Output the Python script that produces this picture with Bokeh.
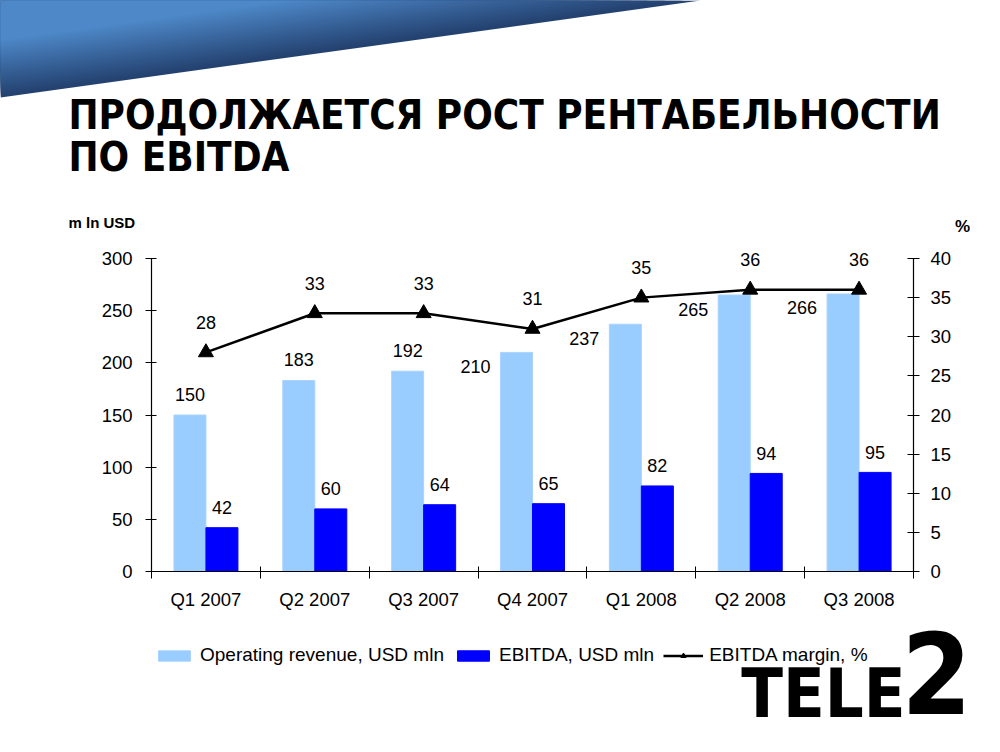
from bokeh.plotting import figure
from bokeh.models import (Range1d, LinearAxis, FixedTicker, Legend, LegendItem)
from bokeh.core.properties import value
from bokeh.embed import file_html
from bokeh.resources import INLINE

# ---------------- data ----------------
quarters = ["Q1 2007", "Q2 2007", "Q3 2007", "Q4 2007", "Q1 2008", "Q2 2008", "Q3 2008"]
revenue = [150, 183, 192, 210, 237, 265, 266]
ebitda = [42, 60, 64, 65, 82, 94, 95]
margin = [28, 33, 33, 31, 35, 36, 36]
left_ticks = [0, 50, 100, 150, 200, 250, 300]
right_ticks = [0, 5, 10, 15, 20, 25, 30, 35, 40]
title_lines = ["ПРОДОЛЖАЕТСЯ РОСТ РЕНТАБЕЛЬНОСТИ", "ПО EBITDA"]

FONT = "Liberation Sans"
W, H = 984, 744

# layout geometry (pixels from the canvas top-left)
AX_L, AX_R = 151, 913        # plot area left / right
AX_B, AX_T = 571, 258        # plot area bottom (0) / top (300)

kx = (AX_R - AX_L) / 7.0
ky = (AX_B - AX_T) / 300.0
ky2 = (AX_B - AX_T) / 40.0

p = figure(width=W, height=H,
           x_range=Range1d(-AX_L / kx, 7 + (W - AX_R) / kx),
           y_range=Range1d(-(H - AX_B) / ky, AX_B / ky),
           x_axis_type=None, y_axis_type=None, output_backend="svg",
           toolbar_location=None, min_border=0)
p.grid.visible = False
p.outline_line_color = None
p.extra_y_ranges = {"pct": Range1d(-(H - AX_B) / ky2, AX_B / ky2),
                    "py": Range1d(H, 0)}
p.extra_x_ranges = {"px": Range1d(0, W)}

# ---------------- banner + title (pixel decoration) ----------------
dark = (36, 66, 112)
light = (78, 136, 200)
n = 24
s_hi, s_lo = 1.0, 0.42
for k in range(n + 1):
    s = s_hi - (s_hi - s_lo) * k / n
    t = k / n
    c = tuple(int(dark[j] + (light[j] - dark[j]) * t) for j in range(3))
    col = "#%02x%02x%02x" % c
    p.patch([0, 700 * s, 0], [0, 0, 97 * s], fill_color=col, line_color=None,
            x_range_name="px", y_range_name="py")

p.text(x=[68, 68], y=[114, 156], text=title_lines, text_font=value("DejaVu Sans Condensed"),
       text_font_style="bold", text_font_size="40px", text_color="black",
       text_baseline="middle", text_align="left", x_range_name="px", y_range_name="py")

# ---------------- chart ----------------
bw = 32 / kx
centers = [i + 0.5 for i in range(len(quarters))]
x_rev = [c - bw / 2 for c in centers]
x_ebd = [c + bw / 2 for c in centers]

r_rev = p.vbar(x=x_rev, top=revenue, bottom=0, width=bw, fill_color="#99CCFF", line_color="#A8D3FF")
r_ebd = p.vbar(x=x_ebd, top=ebitda, bottom=0, width=bw, fill_color="#0000FF", line_color="#0000FF")
r_line = p.line(x=centers, y=margin, y_range_name="pct", line_color="black", line_width=2.5)
r_pts = p.scatter(x=centers, y=margin, y_range_name="pct", marker="triangle", size=15,
                  fill_color="black", line_color="black")

lbl = dict(text_font=value(FONT), text_font_size="18px", text_color="black", text_baseline="middle")

above_idx = [0, 1, 2]
side_idx = [3, 4, 5, 6]
p.text(x=[x_rev[i] for i in above_idx], y=[revenue[i] + 21 / ky for i in above_idx],
       text=[str(revenue[i]) for i in above_idx], text_align="center", **lbl)
p.text(x=[centers[i] - bw - 10 / kx for i in side_idx], y=[revenue[i] - 14 / ky for i in side_idx],
       text=[str(revenue[i]) for i in side_idx], text_align="right", **lbl)
p.text(x=x_ebd, y=[v + 20 / ky for v in ebitda], text=[str(v) for v in ebitda],
       text_align="center", **lbl)
p.text(x=centers, y=[v + 30 / ky2 for v in margin], text=[str(v) for v in margin],
       y_range_name="pct", text_align="center", **lbl)

# ---------------- axes ----------------
xa = LinearAxis(fixed_location=0, bounds=(0, 7),
                ticker=FixedTicker(ticks=centers, minor_ticks=list(range(8))))
xa.major_label_overrides = {c: q for c, q in zip(centers, quarters)}
xa.major_tick_line_color = None
xa.major_tick_in = 0
xa.major_tick_out = 0
xa.minor_tick_in = 5
xa.minor_tick_out = 7
xa.minor_tick_line_color = "black"
xa.major_label_standoff = 10
p.add_layout(xa, "below")

ya = LinearAxis(fixed_location=0, bounds=(0, 300), ticker=FixedTicker(ticks=left_ticks))
ya.major_tick_in = 5
ya.major_tick_out = 6
ya.minor_tick_line_color = None
ya.major_label_standoff = 13
p.add_layout(ya, "left")

yr = LinearAxis(fixed_location=7, y_range_name="pct", bounds=(0, 40),
                ticker=FixedTicker(ticks=right_ticks))
yr.major_tick_in = 6
yr.major_tick_out = 6
yr.minor_tick_line_color = None
yr.major_label_standoff = 11
p.add_layout(yr, "right")

for ax in (xa, ya, yr):
    ax.major_label_text_font = FONT
    ax.major_label_text_font_size = "18.5px"
    ax.major_label_text_color = "black"
    ax.axis_line_color = "black"
    ax.axis_line_width = 1.2
for ax in (ya, yr):
    ax.major_tick_line_color = "black"

# ---------------- legend ----------------
legend = Legend(items=[
    LegendItem(label="Operating revenue, USD mln", renderers=[r_rev]),
    LegendItem(label="EBITDA, USD mln", renderers=[r_ebd]),
    LegendItem(label="EBITDA margin, %", renderers=[r_line, r_pts]),
], orientation="horizontal", location=(154, 78))
legend.label_text_font = FONT
legend.label_text_font_size = "19px"
legend.label_text_color = "black"
legend.glyph_width = 40
legend.glyph_height = 13
legend.label_standoff = 6
legend.spacing = 9
legend.padding = 4
legend.margin = 0
legend.border_line_color = None
legend.background_fill_alpha = 0
p.add_layout(legend, "center")

# ---------------- captions and logo (pixel decoration) ----------------
p.text(x=[68], y=[222], text=["m ln USD"], text_font=value(FONT), text_font_style="bold",
       text_font_size="15px", text_align="left", text_baseline="middle", text_color="black",
       x_range_name="px", y_range_name="py")
p.text(x=[962], y=[226], text=["%"], text_font=value(FONT), text_font_style="bold",
       text_font_size="17px", text_align="center", text_baseline="middle", text_color="black",
       x_range_name="px", y_range_name="py")
p.text(x=[905], y=[693], text=["TELE"], text_font=value("DejaVu Sans Condensed"),
       text_font_style="bold", text_font_size="68px", text_align="right",
       text_baseline="middle", text_color="black", x_range_name="px", y_range_name="py")
p.text(x=[901], y=[672], text=["2"], text_font=value("DejaVu Sans Condensed"),
       text_font_style="bold", text_font_size="112px", text_align="left",
       text_baseline="middle", text_color="black", x_range_name="px", y_range_name="py")

open("out.html", "w").write(file_html(p, INLINE))
